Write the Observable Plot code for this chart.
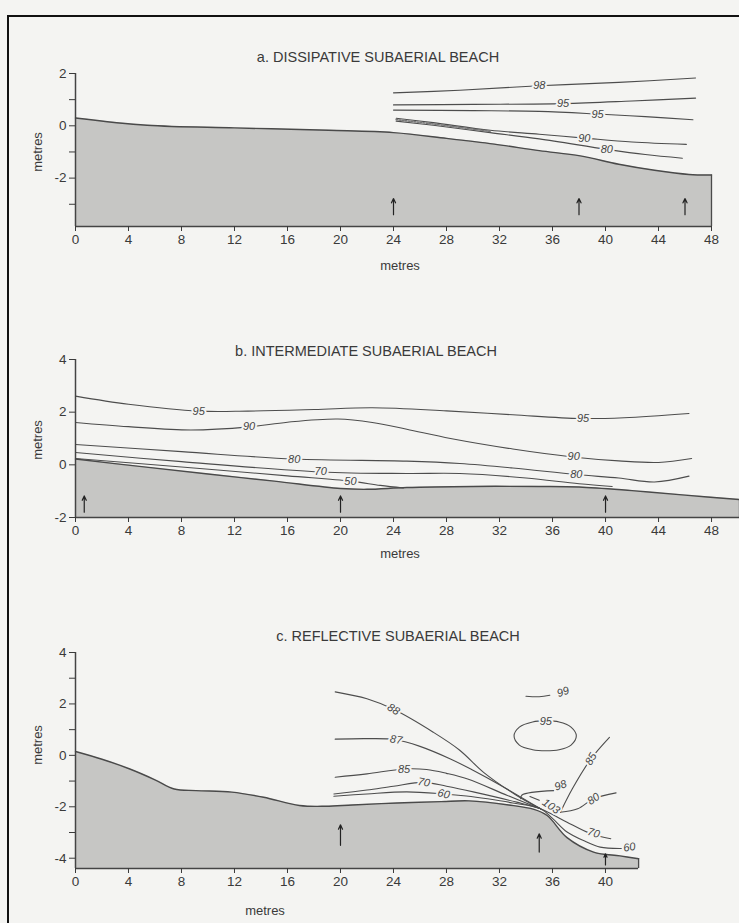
<!DOCTYPE html>
<html><head><meta charset="utf-8">
<script src="https://cdn.jsdelivr.net/npm/d3@7"></script>
<script src="https://cdn.jsdelivr.net/npm/@observablehq/plot@0.6"></script>
<style>
html,body{margin:0;padding:0;background:#f4f4f2;}
#page{position:relative;width:739px;height:923px;overflow:hidden;background:#f4f4f2;font-family:"Liberation Sans",Arial,sans-serif;color:#3a3a3a;}
#frame{position:absolute;left:7px;top:15px;width:780px;height:960px;border:2px solid #111;box-sizing:border-box;}
.panel{position:absolute;left:0;}
.title{position:absolute;font-size:14.5px;white-space:nowrap;transform:translateX(-50%);}
.xlab{position:absolute;font-size:13px;white-space:nowrap;transform:translateX(-50%);}
.ylab{position:absolute;font-size:13px;white-space:nowrap;transform:translate(-50%,-50%) rotate(-90deg);}
</style></head>
<body><div id="page"><div id="frame"></div></div>
<script>
const BG = "#f4f4f2";
const FONT = "'Liberation Sans Narrow','Liberation Sans',Arial,sans-serif";

// ---------- tick values ----------
const xTicksAB = [0,4,8,12,16,20,24,28,32,36,40,44,48];
const xTicksC = [0,4,8,12,16,20,24,28,32,36,40];
const yTicksA = [2,1,0,-1,-2,-3];
const yTicksB = [4,2,0,-2];
const yTicksC = [4,3,2,1,0,-1,-2,-3,-4];

// ---------- a. DISSIPATIVE ----------
const groundAx = [0,5.4,12,19.1,24,28,31.6,35,38.1,41,43.7,46.3,48];
const groundAy = [0.3,0.02,-0.08,-0.17,-0.26,-0.48,-0.7,-0.95,-1.15,-1.47,-1.7,-1.86,-1.88];
const a98x = [24,29,35,41,46.8],         a98y = [1.26,1.36,1.53,1.66,1.83];
const a95ax = [24,30,36.8,42,46.8],      a95ay = [0.8,0.82,0.85,0.95,1.06];
const a95bx = [24,30,35,39.4,43,46.6],   a95by = [0.6,0.58,0.55,0.45,0.35,0.23];
const a90x = [24.2,27,31.3,35,38.4,42,46.1], a90y = [0.29,0.12,-0.17,-0.32,-0.47,-0.62,-0.71];
const a80x = [24.2,27,31.3,35,40.1,43,45.8], a80y = [0.18,0.02,-0.26,-0.5,-0.9,-1.1,-1.24];
const aBandx = [24.2,27,31.3], aBandy = [0.235,0.07,-0.215];
const aLabels = ["98","95","95","90","80"];
const aLabelX = [35,36.8,39.4,38.4,40.1];
const aLabelY = [1.53,0.85,0.45,-0.47,-0.9];
const arrowsAx = [24,38,46];
const arrowA = [-3.4,-2.78];

// ---------- b. INTERMEDIATE ----------
const groundBx = [0,5,10,15,20,22,25,30,35,38,42,46,50.11];
const groundBy = [0.22,-0.07,-0.35,-0.62,-0.9,-0.93,-0.86,-0.82,-0.82,-0.84,-0.98,-1.15,-1.32];
const b95x = [0,4,9.3,13,18,22.4,28,33,38.1,41.4,46.3];
const b95y = [2.61,2.3,2.04,2.04,2.1,2.17,2.05,1.9,1.76,1.79,1.95];
const b90x = [0,4,8.7,13.1,16,19.8,22.4,25,28.3,33,37.5,41,44,46.5];
const b90y = [1.61,1.45,1.32,1.44,1.62,1.74,1.61,1.35,1.0,0.6,0.3,0.15,0.09,0.24];
const b80x = [0,8,16.5,25,29,33,37.8,41,43.7,46.3];
const b80y = [0.77,0.5,0.22,0.14,0.05,-0.12,-0.37,-0.5,-0.65,-0.43];
const b70x = [0,8,18.5,25,29,34,38,40.5];
const b70y = [0.47,0.12,-0.27,-0.33,-0.33,-0.5,-0.72,-0.82];
const b50x = [0,8,16,20.75,23,24.75];
const b50y = [0.24,-0.08,-0.42,-0.62,-0.78,-0.88];
const bLabels = ["95","90","80","70","50","95","90","80"];
const bLabelX = [9.3,13.1,16.5,18.5,20.75,38.3,37.6,37.8];
const bLabelY = [2.04,1.44,0.22,-0.27,-0.62,1.76,0.3,-0.37];
const arrowsBx = [0.66,20,40];
const arrowB = [-1.8,-1.18];

// ---------- c. REFLECTIVE ----------
const groundCx = [0,2,4.1,6,7.45,9.1,11.8,14.2,16.9,18.9,20.9,24.3,27.6,29.7,32.7,34.6,35.6,37.1,39.1,41.1,42.5];
const groundCy = [0.15,-0.15,-0.53,-0.95,-1.31,-1.37,-1.43,-1.63,-1.95,-1.98,-1.93,-1.85,-1.8,-1.77,-1.93,-2.1,-2.34,-3.2,-3.76,-3.91,-4.02];
const c88x = [19.6,22,24,27,29,30.8,33.3,35.1], c88y = [2.47,2.2,1.79,0.9,0.2,-0.66,-1.56,-2.08];
const c87x = [19.6,22,24.2,26,28.3,30,32.1,35.1], c87y = [0.63,0.65,0.61,0.35,-0.14,-0.58,-1.17,-2.08];
const c85x = [19.6,22,24.8,26.5,28,29.6,32.6,35.1], c85y = [-0.85,-0.72,-0.53,-0.55,-0.7,-0.92,-1.56,-2.08];
const c70x = [19.5,22,24,26.3,28,30.1,33.3,35.1,36,37.1,38.9,40.4];
const c70y = [-1.5,-1.35,-1.2,-1.05,-1.2,-1.43,-1.82,-2.08,-2.3,-2.6,-3.05,-3.24];
const c60x = [19.5,22,25,27.8,29.5,31.1,33,35.1,36,37.1,38.5,39.6,41.2];
const c60y = [-1.59,-1.5,-1.42,-1.5,-1.58,-1.69,-1.85,-2.08,-2.45,-2.98,-3.35,-3.57,-3.62];
const c85rx = [36.6,37.5,38.9,40.3], c85ry = [-2.21,-1.3,-0.14,0.7];
const c80rx = [36.6,37.9,39.1,40.8], c80ry = [-2.21,-2.08,-1.69,-1.46];
const c98x = [33.6,33.7,36.1], c98y = [-1.69,-1.54,-1.37];
const c103x = [34.3,35.0], c103y = [-1.6,-1.75];
const c99x = [34,35,35.8], c99y = [2.3,2.28,2.34];
const c95x = [35.5,36.5,37.4,37.8,37.4,36.5,35.5,34.5,33.5,33.1,33.5,34.5,35.5];
const c95y = [1.34,1.3,1.1,0.76,0.4,0.22,0.18,0.22,0.4,0.76,1.1,1.3,1.34];
const cLabels = ["88","87","85","70","60","99","95","85","98","103","80","70","60"];
const cLabelX = [24,24.2,24.8,26.3,27.8,36.8,35.5,38.9,36.6,35.9,39.1,39.1,41.8];
const cLabelY = [1.79,0.61,-0.53,-1.05,-1.5,2.47,1.3,-0.14,-1.17,-1.98,-1.69,-3.02,-3.57];
const cLabelR = [30,8,0,10,12,-20,0,-60,-20,35,-35,15,-10];
const arrowsCx = [20,35,40];
const arrowCy1 = [-3.5,-3.76,-4.26];
const arrowCy2 = [-2.7,-3.05,-3.83];

// ---------- helpers ----------
const zip = (xs, ys) => xs.map((x, i) => ({x, y: ys[i]}));
const labelRows = (t, xs, ys, rs) => t.map((s, i) => ({t: s, x: xs[i], y: ys[i], r: rs ? rs[i] : 0}));

function panel({top, xDomain, yDomain, yTicks, xTicks, marginRight, marginTop, height, ground, lines, dashed, labels, arrows}) {
  const marks = [
    Plot.areaY(ground, {x: "x", y1: yDomain[0], y2: "y", fill: "#c6c6c4", curve: "catmull-rom"}),
    Plot.line(ground, {x: "x", y: "y", stroke: "#4a4a4a", strokeWidth: 1.4, curve: "catmull-rom"}),
    Plot.ruleX(ground.slice(-1), {x: "x", y1: yDomain[0], y2: "y", stroke: "#4a4a4a", strokeWidth: 1.3}),
    ...lines.map(l => Plot.line(l, {x: "x", y: "y", stroke: "#4d4d4d", strokeWidth: 1.1, curve: "catmull-rom"})),
    ...(dashed || []).map(l => Plot.line(l, {x: "x", y: "y", stroke: "#777", strokeWidth: 1.6, strokeDasharray: "1.5,1.5", curve: "catmull-rom"})),
    Plot.arrow(arrows, {x1: "x", x2: "x", y1: "y1", y2: "y2", stroke: "#222", strokeWidth: 1.2, headLength: 6, headAngle: 50}),
    Plot.text(labels, {x: "x", y: "y", text: "t", rotate: "r", fontStyle: "italic", fontSize: 11, fill: "#444", stroke: BG, strokeWidth: 4, paintOrder: "stroke"}),
    Plot.ruleX([xDomain[0]], {stroke: "#444", strokeWidth: 1.5}),
    Plot.ruleY([yDomain[0]], {stroke: "#444", strokeWidth: 1.6}),
    Plot.axisX({ticks: xTicks, tickSize: 5, tickPadding: 3, tickFormat: d => String(d), fontSize: 13.5, label: null}),
    Plot.axisY({ticks: yTicks, tickSize: 6, tickPadding: 3, tickFormat: d => (d % 2 === 0 ? String(d) : ""), fontSize: 13.5, label: null})
  ];
  const svg = Plot.plot({
    width: 739, height, marginLeft: 75, marginRight, marginTop, marginBottom: 30,
    style: {background: "transparent", fontFamily: FONT, color: "#3a3a3a", overflow: "visible"},
    x: {domain: xDomain, axis: null},
    y: {domain: yDomain, axis: null},
    marks
  });
  svg.classList.add("panel");
  svg.style.top = top + "px";
  svg.style.position = "absolute";
  return svg;
}

const page = document.getElementById("page");

page.append(panel({
  top: 40, marginTop: 33, height: 216, marginRight: 28,
  xDomain: [0, 48], yDomain: [-3.85, 2], xTicks: xTicksAB, yTicks: yTicksA,
  ground: zip(groundAx, groundAy),
  lines: [zip(a98x, a98y), zip(a95ax, a95ay), zip(a95bx, a95by), zip(a90x, a90y), zip(a80x, a80y)],
  dashed: [zip(aBandx, aBandy)],
  labels: labelRows(aLabels, aLabelX, aLabelY),
  arrows: arrowsAx.map(x => ({x, y1: arrowA[0], y2: arrowA[1]}))
}));

page.append(panel({
  top: 330, marginTop: 29, height: 217, marginRight: 0,
  xDomain: [0, 50.11], yDomain: [-2, 4], xTicks: xTicksAB, yTicks: yTicksB,
  ground: zip(groundBx, groundBy),
  lines: [zip(b95x, b95y), zip(b90x, b90y), zip(b80x, b80y), zip(b70x, b70y), zip(b50x, b50y)],
  labels: labelRows(bLabels, bLabelX, bLabelY),
  arrows: arrowsBx.map(x => ({x, y1: arrowB[0], y2: arrowB[1]}))
}));

page.append(panel({
  top: 620, marginTop: 32, height: 278, marginRight: 100.9,
  xDomain: [0, 42.5], yDomain: [-4.4, 4], xTicks: xTicksC, yTicks: yTicksC,
  ground: zip(groundCx, groundCy),
  lines: [zip(c88x, c88y), zip(c87x, c87y), zip(c85x, c85y), zip(c70x, c70y), zip(c60x, c60y),
          zip(c85rx, c85ry), zip(c80rx, c80ry), zip(c98x, c98y), zip(c103x, c103y), zip(c99x, c99y), zip(c95x, c95y)],
  labels: labelRows(cLabels, cLabelX, cLabelY, cLabelR),
  arrows: arrowsCx.map((x, i) => ({x, y1: arrowCy1[i], y2: arrowCy2[i]}))
}));

// titles and axis labels
const texts = [
  ["title", "a. DISSIPATIVE SUBAERIAL BEACH", 378, 49],
  ["title", "b. INTERMEDIATE SUBAERIAL BEACH", 366, 343],
  ["title", "c. REFLECTIVE SUBAERIAL BEACH", 398, 628],
  ["xlab", "metres", 400, 258],
  ["xlab", "metres", 400, 546],
  ["xlab", "metres", 265, 903]
];
for (const [cls, t, x, y] of texts) {
  const d = document.createElement("div");
  d.className = cls; d.textContent = t;
  d.style.left = x + "px"; d.style.top = y + "px";
  page.append(d);
}
for (const [x, y] of [[37, 152], [37, 440], [37, 745]]) {
  const d = document.createElement("div");
  d.className = "ylab"; d.textContent = "metres";
  d.style.left = x + "px"; d.style.top = y + "px";
  page.append(d);
}
</script>
</body></html>
